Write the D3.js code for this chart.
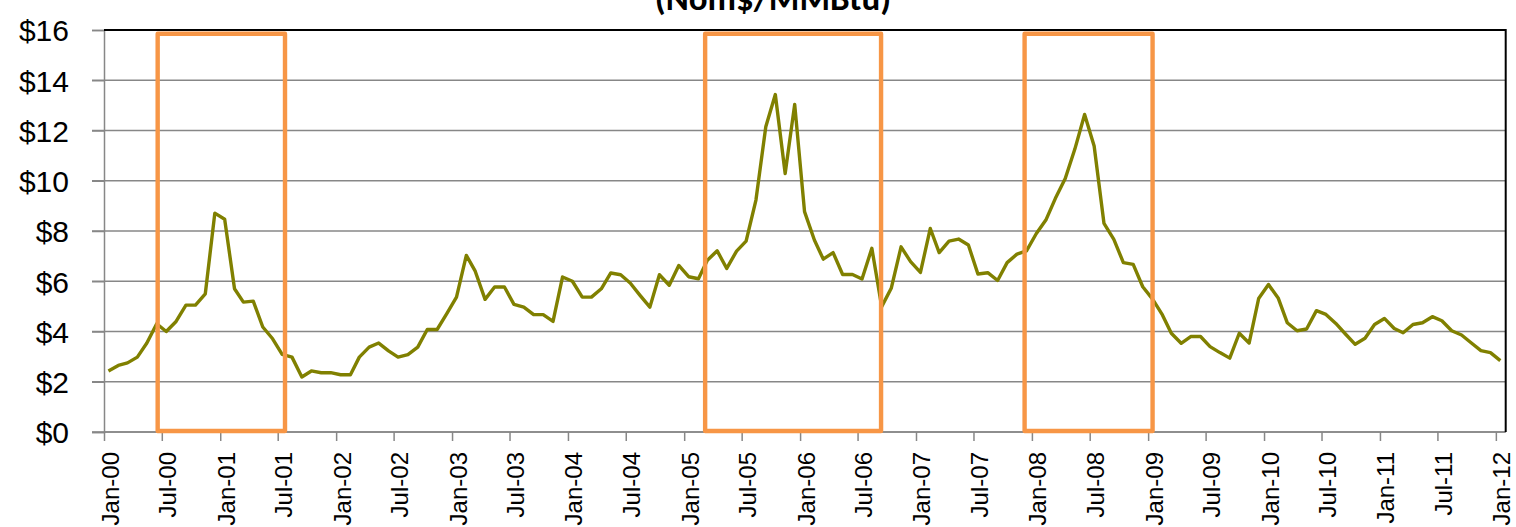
<!DOCTYPE html>
<html>
<head>
<meta charset="utf-8">
<script src="https://cdn.jsdelivr.net/npm/d3@7"></script>
<style>
  html, body { margin: 0; padding: 0; background: #fff; overflow: hidden; }
  svg { display: block; font-family: Carlito, Calibri, Lato, "Open Sans", sans-serif; }
</style>
</head>
<body>
<svg id="chart" width="1516" height="527"></svg>
<script>
// monthly prices, Nom$/MMBtu, one array per year
const p2000 = [2.43, 2.65, 2.75, 2.98, 3.54, 4.31, 4.00, 4.40, 5.05, 5.05, 5.50, 8.71];
const p2001 = [8.47, 5.70, 5.17, 5.21, 4.18, 3.71, 3.09, 2.98, 2.19, 2.43, 2.36, 2.36];
const p2002 = [2.28, 2.28, 2.98, 3.38, 3.54, 3.23, 2.98, 3.08, 3.38, 4.08, 4.08, 4.70];
const p2003 = [5.37, 7.03, 6.40, 5.28, 5.77, 5.77, 5.08, 4.97, 4.67, 4.67, 4.40, 6.17];
const p2004 = [6.00, 5.37, 5.37, 5.70, 6.33, 6.26, 5.93, 5.44, 4.97, 6.26, 5.84, 6.63];
const p2005 = [6.18, 6.10, 6.84, 7.21, 6.51, 7.20, 7.60, 9.23, 12.15, 13.43, 10.29, 13.04];
const p2006 = [8.77, 7.64, 6.88, 7.14, 6.27, 6.27, 6.09, 7.31, 4.99, 5.72, 7.37, 6.78];
const p2007 = [6.35, 8.10, 7.14, 7.60, 7.68, 7.44, 6.29, 6.34, 6.03, 6.74, 7.08, 7.21];
const p2008 = [7.90, 8.46, 9.30, 10.09, 11.25, 12.64, 11.38, 8.30, 7.67, 6.74, 6.67, 5.78];
const p2009 = [5.29, 4.66, 3.93, 3.53, 3.80, 3.80, 3.40, 3.16, 2.94, 3.93, 3.54, 5.31];
const p2010 = [5.87, 5.32, 4.35, 4.03, 4.10, 4.83, 4.68, 4.32, 3.89, 3.49, 3.73, 4.28];
const p2011 = [4.52, 4.12, 3.95, 4.28, 4.35, 4.59, 4.43, 4.03, 3.86, 3.55, 3.24, 3.16];
const p2012 = [2.84];

const yearArrays = [p2000, p2001, p2002, p2003, p2004, p2005, p2006, p2007, p2008, p2009, p2010, p2011, p2012];
const firstYear = 2000;

// highlighted price spikes (orange boxes)
const highlightStart = ["2000-06-18", "2005-03-08", "2007-12-09"];
const highlightEnd   = ["2001-07-24", "2006-09-13", "2009-01-15"];

const yTicks = [0, 2, 4, 6, 8, 10, 12, 14, 16];
const titleText = "(Nom$/MMBtu)";

const parse = d3.timeParse("%Y-%m-%d");
const data = [];
yearArrays.forEach((arr, yi) => {
    arr.forEach((v, m) => {
        data.push({ date: new Date(firstYear + yi, m, 15), value: v });
    });
});

const svg = d3.select("#chart");
const plotLeft = 104, plotRight = 1505.7, plotTop = 30, plotBottom = 432;

const x = d3.scaleTime()
    .domain([new Date(2000, 0, 1), new Date(2012, 1, 1)])
    .range([plotLeft, plotRight]);
const y = d3.scaleLinear().domain([0, 16]).range([plotBottom, plotTop]);

// gridlines
svg.append("g")
    .selectAll("line")
    .data(yTicks.filter(d => d < 16))
    .enter().append("line")
    .attr("x1", plotLeft - 12).attr("x2", plotRight)
    .attr("y1", d => y(d)).attr("y2", d => y(d))
    .attr("stroke", "#878787")
    .attr("stroke-width", 1.5);

// y axis
const yAxis = svg.append("g")
    .attr("transform", `translate(${plotLeft},0)`)
    .call(d3.axisLeft(y).tickValues(yTicks).tickSize(12).tickPadding(23).tickFormat(d => "$" + d));
yAxis.select(".domain").attr("stroke", "#878787").attr("stroke-width", 1.5);
yAxis.selectAll(".tick line").attr("stroke", "#878787").attr("stroke-width", 1.5);
yAxis.selectAll(".tick text")
    .attr("fill", "#000")
    .style("font-size", "30px")
    .attr("dy", "0.36em");

// x axis
const xAxis = svg.append("g")
    .attr("transform", `translate(0,${plotBottom})`)
    .call(d3.axisBottom(x).ticks(d3.timeMonth.every(6)).tickSize(9).tickFormat(d3.timeFormat("%b-%y")));
xAxis.select(".domain").attr("d", `M${plotLeft},0H${plotRight}`).attr("stroke", "#878787").attr("stroke-width", 1.5);
xAxis.selectAll(".tick line").attr("stroke", "#878787").attr("stroke-width", 1.5);
xAxis.selectAll(".tick text")
    .attr("fill", "#000")
    .style("font-size", "24px")
    .attr("text-anchor", "end")
    .attr("y", 0).attr("dy", 0)
    .attr("transform", "translate(14,20) rotate(-90)");

// plot border: top and right in black
svg.append("path")
    .attr("d", `M${plotLeft},${plotTop}H${plotRight}V${plotBottom}`)
    .attr("fill", "none")
    .attr("stroke", "#000")
    .attr("stroke-width", 2);

// price line
const line = d3.line()
    .x(d => x(d.date))
    .y(d => y(d.value));

svg.append("path")
    .datum(data)
    .attr("d", line)
    .attr("fill", "none")
    .attr("stroke", "#808000")
    .attr("stroke-width", 3.4)
    .attr("stroke-linejoin", "round");

// highlight boxes
svg.append("g")
    .selectAll("rect")
    .data(highlightStart.map((s, i) => ({ s: parse(s), e: parse(highlightEnd[i]) })))
    .enter().append("rect")
    .attr("x", d => x(d.s))
    .attr("width", d => x(d.e) - x(d.s))
    .attr("y", y(15.85))
    .attr("height", d => y(0) - y(15.85) - 1)
    .attr("fill", "none")
    .attr("stroke", "#F79646")
    .attr("stroke-width", 4.4)
    .attr("stroke-linejoin", "round");

// title (top line cut off by the frame, as in the original)
svg.append("text")
    .attr("x", 773)
    .attr("y", 10)
    .attr("text-anchor", "middle")
    .style("font-size", "35px")
    .style("font-weight", "bold")
    .text(titleText);
</script>
</body>
</html>
